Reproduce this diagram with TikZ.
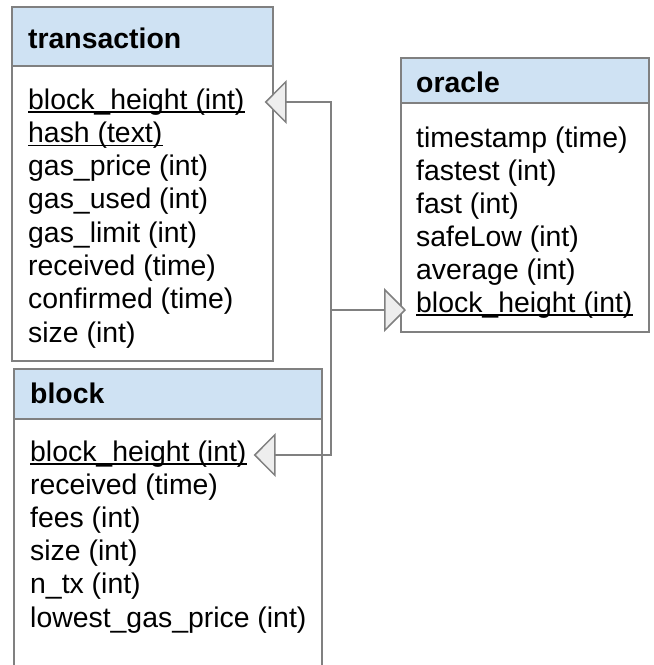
\documentclass[tikz,border=0pt]{standalone}
\usepackage{fontspec}
\setmainfont{Liberation Sans}
\usetikzlibrary{arrows.meta}
\definecolor{hdrblue}{HTML}{CFE2F3}
\definecolor{edge}{HTML}{808080}
\definecolor{tri}{HTML}{EEEEEE}

\begin{document}
\begin{tikzpicture}[x=1pt, y=-1pt,
    tbl/.style={draw=edge, line width=1.5pt, inner sep=0pt, outer sep=0pt, anchor=north west},
    hdr/.style={tbl, fill=hdrblue},
    title/.style={anchor=base west, inner sep=0pt, font=\fontsize{28.4}{33}\selectfont\bfseries},
    fld/.style={anchor=base west, inner sep=0pt, font=\fontsize{28.4}{33}\selectfont},
    fk/.style={draw=edge, line width=1.5pt, -{Triangle[length=22pt, width=44pt, fill=tri]}}]
    \useasboundingbox (0,0) rectangle (654,665);

    %tables: body first, header on top
    \node[tbl, minimum width=261pt, minimum height=354pt] (tx) at (12,7) {};
    \node[hdr, minimum width=261pt, minimum height=59pt] (txh) at (12,7) {};
    \node[title] (txt) at (28,48) {transaction};
    \foreach \f [count=\i from 0] in {block\_height (int), hash (text), gas\_price (int), gas\_used (int),
        gas\_limit (int), received (time), confirmed (time), size (int)}
        \node[fld] (tx\i) at (28,109+33.3*\i) {\f};

    \node[tbl, minimum width=308pt, minimum height=320pt] (bk) at (14,369) {};
    \node[hdr, minimum width=308pt, minimum height=50pt] (bkh) at (14,369) {};
    \node[title] (bkt) at (30,403) {block};
    \foreach \f [count=\i from 0] in {block\_height (int), received (time), fees (int), size (int),
        n\_tx (int), lowest\_gas\_price (int)}
        \node[fld] (bk\i) at (30,461+33.2*\i) {\f};

    \node[tbl, minimum width=248pt, minimum height=274pt] (or) at (401,58) {};
    \node[hdr, minimum width=248pt, minimum height=45pt] (orh) at (401,58) {};
    \node[title] (ort) at (416,92) {oracle};
    \foreach \f [count=\i from 0] in {timestamp (time), fastest (int), fast (int), safeLow (int),
        average (int), block\_height (int)}
        \node[fld] (or\i) at (416,147+33*\i) {\f};

    %key fields
    \foreach \n in {tx0, tx1, bk0, or5}
        \draw[line width=1.6pt] ([yshift=-3pt]\n.base west) -- ([yshift=-3pt]\n.base east);

    %references
    \coordinate (txin) at ([xshift=20pt, yshift=7pt]tx0.base east);
    \coordinate (bkin) at ([xshift=7pt, yshift=6pt]bk0.base east);
    \coordinate (orin) at ([xshift=-10pt, yshift=2pt]or5.base west);
    \coordinate (hub) at (331,310);
    \draw[fk] (hub) |- (txin);
    \draw[fk] (hub) |- (bkin);
    \draw[fk] (hub) -- (orin);
\end{tikzpicture}
\end{document}
